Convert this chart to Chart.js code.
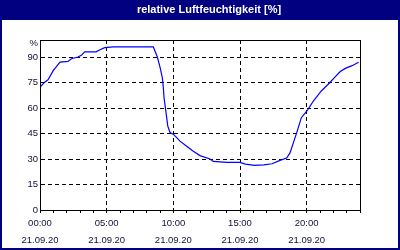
<!DOCTYPE html>
<html>
<head>
<meta charset="utf-8">
<script src="https://cdn.jsdelivr.net/npm/chart.js@4"></script>
<style>
  html, body { margin: 0; padding: 0; background: #fff; }
  #wrap { width: 400px; height: 250px; }
</style>
</head>
<body>
<div id="wrap"><canvas id="chart" width="400" height="250"></canvas></div>
<script>
// Stunden (0-24) und rel. Luftfeuchtigkeit in %
const stunden = [0, 0.35, 0.6, 1.0, 1.2, 1.5, 2.1, 2.35, 2.85, 3.1, 3.35, 4.2, 4.5, 4.85,
  5.5, 6.5, 7.5, 8.5, 8.6, 8.8, 9.0, 9.17, 9.25, 9.3, 9.4, 9.5, 9.58, 9.75, 10,
  10.5, 11, 11.5, 12, 12.75, 13, 14, 15, 15.4, 16.1, 16.8, 17.4, 18, 18.5, 18.75,
  19, 19.25, 19.6, 19.9, 20.1, 20.5, 21.1, 21.75, 22.1, 22.5, 22.9, 23.4, 23.9]
const feuchte = [72.2, 75.2, 76.6, 82.1, 84, 87, 87.4, 89, 90, 91, 93, 93, 94.3, 95.5,
  95.9, 95.9, 95.9, 95.9, 94, 90, 84, 78, 72, 66.3, 60.4, 54.5, 49.5, 45.6, 44.6,
  40.5, 37.5, 34.5, 32, 30, 28.6, 28, 28, 27, 26.2, 26.5, 27.2, 29.2, 30.6, 33.6,
  39.5, 45.4, 54.3, 57.2, 59.2, 64.1, 70, 75, 78, 81.3, 83.3, 84.9, 86.9]

const yTicks = [0, 15, 30, 45, 60, 75, 90]
const yEinheit = '%'
const yEinheitWert = 98
const xTickStunden = [0, 5, 10, 15, 20]
const xUhrzeiten = ['00:00', '05:00', '10:00', '15:00', '20:00']
const datum = '21.09.20'
const titel = 'relative Luftfeuchtigkeit [%]'

const navy = '#000080'
const textFarbe = '#10103a'
const schrift = { family: 'Liberation Sans, Arial, sans-serif', size: 9.5 }

// Rahmen + Titelleiste
const rahmen = {
  id: 'rahmen',
  beforeDraw(chart) {
    const c = chart.ctx
    c.save()
    c.fillStyle = navy
    c.fillRect(0, 0, chart.width, chart.height)
    c.fillStyle = '#ffffff'
    c.fillRect(2, 20, chart.width - 4, chart.height - 22)
    c.restore()
  },
  afterDraw(chart) {
    const a = chart.chartArea
    const c = chart.ctx
    c.save()
    c.strokeStyle = '#000'
    c.lineWidth = 1
    c.strokeRect(Math.round(a.left) + 0.5, Math.round(a.top) + 0.5,
      Math.round(a.right - a.left), Math.round(a.bottom - a.top))
    c.restore()
  }
}

new Chart(document.getElementById('chart'), {
  type: 'line',
  data: {
    datasets: [{
      data: stunden.map((h, i) => ({ x: h, y: feuchte[i] })),
      borderColor: '#0000ff',
      borderWidth: 1.2,
      pointRadius: 0,
      tension: 0,
      fill: false
    }]
  },
  options: {
    responsive: false,
    animation: false,
    layout: { padding: { left: 18, right: 0, top: 0, bottom: 0 } },
    plugins: {
      legend: { display: false },
      tooltip: { enabled: false },
      title: {
        display: true,
        text: titel,
        color: '#ffffff',
        font: { family: 'Liberation Sans, Arial, sans-serif', size: 11, weight: 'bold', lineHeight: 1.2 },
        padding: { top: 3.5, bottom: 23.3 }
      }
    },
    scales: {
      x: {
        type: 'linear',
        min: 0,
        max: 24,
        afterFit: s => { s.height = 40 },
        afterBuildTicks: s => {
          const t = []
          for (let h = 0; h <= 24; h++) t.push({ value: h })
          s.ticks = t
        },
        ticks: {
          autoSkip: false,
          maxRotation: 0,
          padding: 2,
          color: textFarbe,
          font: { ...schrift, lineHeight: 1.8 },
          callback: v => {
            const i = xTickStunden.indexOf(v)
            return i >= 0 ? [xUhrzeiten[i], datum] : ''
          }
        },
        grid: {
          color: ctx => (ctx.tick && ctx.tick.value > 0 && ctx.tick.value < 24 && ctx.tick.value % 5 === 0) ? '#000' : 'rgba(0,0,0,0)',
          tickColor: '#000',
          tickLength: 3,
          lineWidth: 1
        },
        border: { display: true, color: '#000', width: 1, dash: [4, 3] }
      },
      y: {
        min: 0,
        max: 100,
        afterFit: s => { s.width = 22 },
        afterBuildTicks: s => {
          s.ticks = yTicks.map(v => ({ value: v })).concat([{ value: yEinheitWert }])
        },
        ticks: {
          padding: 2,
          color: textFarbe,
          font: schrift,
          callback: v => v === yEinheitWert ? yEinheit : v
        },
        grid: {
          drawTicks: false,
          color: ctx => (ctx.tick && ctx.tick.value > 0 && ctx.tick.value < yEinheitWert) ? '#000' : 'rgba(0,0,0,0)',
          lineWidth: 1
        },
        border: { display: true, color: '#000', width: 1, dash: [4, 3] }
      },
      y2: {
        position: 'right',
        afterFit: s => { s.width = 40 },
        ticks: { display: false },
        grid: { display: false },
        border: { display: false }
      }
    }
  },
  plugins: [rahmen]
})
</script>
</body>
</html>
